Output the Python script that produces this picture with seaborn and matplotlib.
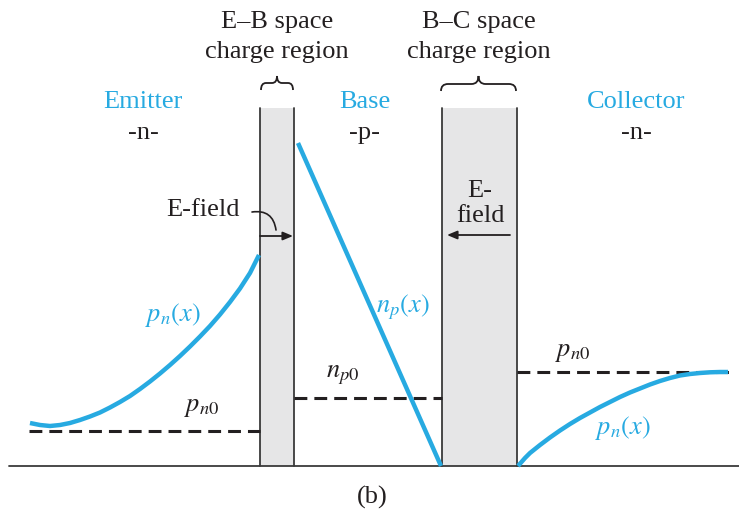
import numpy as np
import pandas as pd
import matplotlib
matplotlib.use("Agg")
import matplotlib.pyplot as plt
from matplotlib.patches import Rectangle, FancyArrowPatch, PathPatch
from matplotlib.path import Path
import seaborn as sns

# ---------------- data (x position, concentration height) ----------------
emitter_x = [30, 40, 50, 60, 70, 80, 90, 100, 110, 120, 130, 140, 150, 160,
             170, 180, 190, 200, 210, 220, 230, 240, 250, 259]
emitter_pn = [43, 41, 40, 41, 43, 46, 49.5, 53.5, 58.5, 64, 70, 77, 84.5, 92.5,
              101, 110, 119.5, 129.5, 140, 151.5, 164, 177.5, 193, 211]
emitter_pn0 = 35

base_x = [298, 441]
base_np = [323, 0]
base_np0 = 68

collector_x = [518, 525, 530, 540, 550, 560, 570, 580, 590, 600, 610, 620,
               630, 640, 650, 660, 670, 680, 690, 700, 710, 720, 728]
collector_pn = [0, 8, 13, 21, 28.5, 35.5, 42, 48, 53.5, 59, 64, 69,
                73.5, 77.5, 81.5, 85, 88, 90.5, 92, 93, 93.7, 94, 94]
collector_pn0 = 94

# region boundaries
emitter_span = [29, 260]
eb_region = [260, 294]
base_span = [294, 442]
bc_region = [442, 517]
collector_span = [517, 731]
region_top = 358

region_labels = ["Emitter", "Base", "Collector"]
region_types = ["-n-", "-p-", "-n-"]

CYAN = "#27AAE1"
DARK = "#231F20"
GRAY_FILL = "#E6E6E7"
EDGE = "#3A3A3A"

sns.set_theme(style="white")
plt.rcParams["font.family"] = ["Liberation Serif", "DejaVu Serif"]
plt.rcParams["mathtext.fontset"] = "stix"

fig = plt.figure(figsize=(7.39, 5.2), dpi=100)
ax = fig.add_axes([0, 0, 1, 1])
ax.set_xlim(0, 739)
ax.set_ylim(-54, 466)
ax.axis("off")

# space-charge regions
for (x0, x1) in (eb_region, bc_region):
    ax.add_patch(Rectangle((x0, 0), x1 - x0, region_top, facecolor=GRAY_FILL,
                           edgecolor="none", zorder=1))
    ax.plot([x0, x0], [0, region_top], color=EDGE, lw=1.3, zorder=2)
    ax.plot([x1, x1], [0, region_top], color=EDGE, lw=1.3, zorder=2)

# baseline
ax.plot([9, 739], [0, 0], color=EDGE, lw=1.3, zorder=2)

# dashed equilibrium levels
dash = (4.2, 2.3)
for span, lvl in ((emitter_span, emitter_pn0), (base_span, base_np0),
                  (collector_span, collector_pn0)):
    ax.plot(span, [lvl, lvl], color=DARK, lw=2.2, dashes=dash, zorder=3)

# carrier distributions
lw_c = 3.2
for xs, ys in ((emitter_x, emitter_pn), (base_x, base_np), (collector_x, collector_pn)):
    sns.lineplot(x=xs, y=ys, ax=ax, color=CYAN, lw=lw_c, sort=False,
                 zorder=4, solid_capstyle="butt", solid_joinstyle="round")


def brace(x0, x1, y_end, y_sh, y_tip, q):
    mid = (x0 + x1) / 2
    verts = [(x0, y_end), (x0, y_sh), (x0 + q, y_sh),
             (mid - q, y_sh),
             (mid, y_sh), (mid, y_tip),
             (mid, y_sh), (mid + q, y_sh),
             (x1 - q, y_sh),
             (x1, y_sh), (x1, y_end)]
    codes = [Path.MOVETO, Path.CURVE3, Path.CURVE3,
             Path.LINETO,
             Path.CURVE3, Path.CURVE3,
             Path.CURVE3, Path.CURVE3,
             Path.LINETO,
             Path.CURVE3, Path.CURVE3]
    ax.add_patch(PathPatch(Path(verts, codes), facecolor="none",
                           edgecolor=DARK, lw=1.3, zorder=3))


brace(261, 293, 376, 383, 390, 5)
brace(441, 516, 375, 382, 390, 7)

fs = 19
tkw = dict(ha="center", va="center", fontsize=fs, color=DARK)
ax.text(277, 444, "E–B space", **tkw)
ax.text(277, 414, "charge region", **tkw)
ax.text(479, 444, "B–C space", **tkw)
ax.text(479, 414, "charge region", **tkw)

for xc, name, typ in zip([143, 365, 636], region_labels, region_types):
    ax.text(xc, 364, name, ha="center", va="center", fontsize=fs, color=CYAN)
    ax.text(xc, 333, typ, ha="center", va="center", fontsize=fs, color=DARK)

# E-field annotations
ax.text(203, 256, "E-field", **tkw)
ax.text(480, 275, "E-", **tkw)
ax.text(480, 250, "field", **tkw)
ax.add_patch(FancyArrowPatch((260, 230), (293, 230), arrowstyle="-|>,head_length=6,head_width=2.5",
                             color=DARK, lw=1.3, zorder=5, shrinkA=0, shrinkB=0))
ax.add_patch(FancyArrowPatch((510, 231), (447, 231), arrowstyle="-|>,head_length=6,head_width=2.5",
                             color=DARK, lw=1.3, zorder=5, shrinkA=0, shrinkB=0))
ax.add_patch(FancyArrowPatch((252, 254), (276, 236), arrowstyle="-",
                             connectionstyle="arc3,rad=-0.5",
                             color=DARK, lw=1.2, zorder=5, shrinkA=0, shrinkB=0))

# curve labels
mfs = 19
ax.text(173, 151, r"$p_n(x)$", ha="center", va="center", fontsize=mfs, color=CYAN)
ax.text(403, 159, r"$n_p(x)$", ha="center", va="center", fontsize=mfs, color=CYAN)
ax.text(623, 38, r"$p_n(x)$", ha="center", va="center", fontsize=mfs, color=CYAN)
ax.text(202, 58, r"$p_{n0}$", ha="center", va="center", fontsize=mfs, color=DARK)
ax.text(343, 91, r"$n_{p0}$", ha="center", va="center", fontsize=mfs, color=DARK)
ax.text(573, 113, r"$p_{n0}$", ha="center", va="center", fontsize=mfs, color=DARK)

ax.text(372, -31, "(b)", **tkw)

fig.savefig("out.png", dpi=100)
